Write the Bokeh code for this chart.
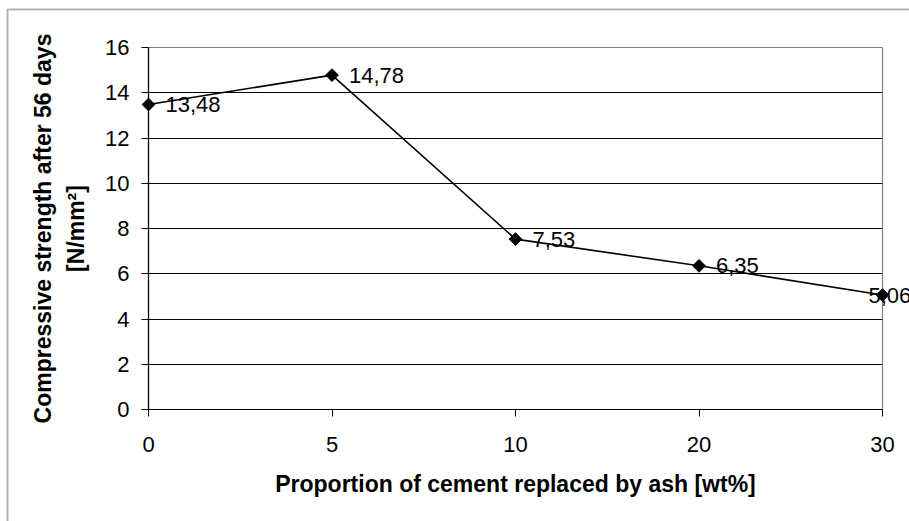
import math

from bokeh.core.properties import value
from bokeh.embed import file_html
from bokeh.models import (BoxAnnotation, ColumnDataSource, FixedTicker,
                          LabelSet, LinearAxis, Range1d)
from bokeh.plotting import figure
from bokeh.resources import INLINE

# Share of cement replaced by ash [wt%] and 56-day compressive strength [N/mm2]
replacement_pct = ["0", "5", "10", "20", "30"]
strength_56d = [13.48, 14.78, 7.53, 6.35, 5.06]
y_ticks = [0, 2, 4, 6, 8, 10, 12, 14, 16]

FONT = "Liberation Sans"
W, H = 909, 521
BORDER = dict(left=148, right=27, top=47, bottom=112)

n = len(replacement_pct)
xpos = list(range(n))
y0, y1 = y_ticks[0], y_ticks[-1]

# ---------------------------------------------------------------- axes layer
base = figure(
    width=W, height=H,
    x_range=Range1d(0, n - 1), y_range=Range1d(y0, y1),
    output_backend="svg", toolbar_location=None, title=None,
    min_border_left=BORDER["left"], min_border_right=BORDER["right"],
    min_border_top=BORDER["top"], min_border_bottom=BORDER["bottom"],
)
base.background_fill_color = "white"
base.border_fill_color = "white"
base.outline_line_color = "#808080"
base.outline_line_width = 1.2
base.xgrid.visible = False
base.ygrid.ticker = FixedTicker(ticks=y_ticks[1:-1])
base.ygrid.grid_line_color = "#000000"
base.ygrid.grid_line_width = 1

xa = base.xaxis[0]
xa.ticker = FixedTicker(ticks=xpos)
xa.major_label_overrides = {i: lbl for i, lbl in enumerate(replacement_pct)}
xa.axis_line_color = "#000000"
xa.axis_line_width = 1.2
xa.major_tick_out = 7
xa.major_tick_in = 0
xa.minor_tick_out = 0
xa.minor_tick_in = 0
xa.major_tick_line_color = "#000000"
xa.major_label_text_font = FONT
xa.major_label_text_font_size = "22px"
xa.major_label_text_color = "#000000"
xa.major_label_standoff = 20
xa.axis_label = "Proportion of cement replaced by ash [wt%]"
xa.axis_label_text_font = FONT
xa.axis_label_text_font_size = "23px"
xa.axis_label_text_font_style = "bold"
xa.axis_label_text_color = "#000000"
xa.axis_label_standoff = 16

ya = base.yaxis[0]
ya.ticker = FixedTicker(ticks=y_ticks)
ya.axis_line_color = "#000000"
ya.axis_line_width = 1.2
ya.major_tick_out = 7
ya.major_tick_in = 0
ya.minor_tick_out = 0
ya.minor_tick_in = 0
ya.major_tick_line_color = "#000000"
ya.major_label_text_font = FONT
ya.major_label_text_font_size = "22px"
ya.major_label_text_color = "#000000"
ya.major_label_standoff = 12
ya.axis_label = "[N/mm²]"
ya.axis_label_text_font = FONT
ya.axis_label_text_font_size = "23px"
ya.axis_label_text_font_style = "bold"
ya.axis_label_text_color = "#000000"
ya.axis_label_standoff = 13

# first line of the y title on its own tick-less axis
ya2 = LinearAxis(ticker=FixedTicker(ticks=[]), axis_line_color=None,
                 major_tick_out=0, major_tick_in=0, minor_tick_out=0, minor_tick_in=0,
                 major_label_text_font_size="0px",
                 axis_label="Compressive strength after 56 days",
                 axis_label_text_font=FONT, axis_label_text_font_size="23px",
                 axis_label_text_font_style="bold", axis_label_text_color="#000000",
                 axis_label_standoff=5)
base.add_layout(ya2, "left")

# ---------------------------------------------------------------- series layer
# full-canvas frame sharing the axes' scale, so end markers and labels are not cut
px_x = (W - BORDER["left"] - BORDER["right"]) / (n - 1)
px_y = (H - BORDER["top"] - BORDER["bottom"]) / (y1 - y0)
over = figure(
    width=W, height=H,
    x_range=Range1d(-BORDER["left"] / px_x, (n - 1) + BORDER["right"] / px_x),
    y_range=Range1d(y0 - BORDER["bottom"] / px_y, y1 + BORDER["top"] / px_y),
    x_axis_type=None, y_axis_type=None,
    output_backend="svg", toolbar_location=None, title=None,
    min_border_left=0, min_border_right=0, min_border_top=0, min_border_bottom=0,
    styles={"position": "absolute", "left": "0px", "top": "0px"},
)
over.background_fill_color = None
over.border_fill_color = None
over.outline_line_color = None
over.xgrid.visible = False
over.ygrid.visible = False

over.line(xpos, strength_56d, line_color="#000000", line_width=1.6)
over.scatter(xpos, strength_56d, marker="square", angle=math.pi / 4, size=9,
             fill_color="#000000", line_color="#000000")

labels = [f"{v:.2f}".replace(".", ",") for v in strength_56d]
offsets = [17] * (n - 1) + [-14]
src = ColumnDataSource(dict(x=xpos, y=strength_56d, label=labels, dx=offsets))
over.add_layout(LabelSet(x="x", y="y", text="label", x_offset="dx", source=src,
                         text_baseline="middle", text_align="left",
                         text_font=value(FONT), text_font_size="22px",
                         text_color="#000000"))

# chart-area border
over.add_layout(BoxAnnotation(left=7, right=W + 20, top=9, bottom=H + 20,
                              left_units="canvas", right_units="canvas",
                              top_units="canvas", bottom_units="canvas",
                              fill_alpha=0, line_color="#000000", line_width=2))

open("out.html", "w").write(file_html([base, over], INLINE))
